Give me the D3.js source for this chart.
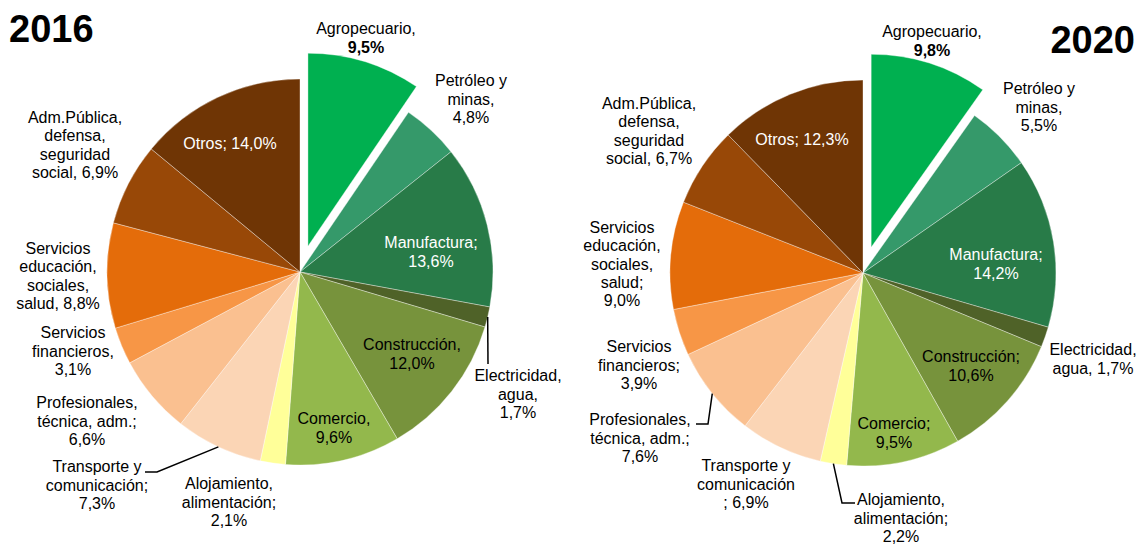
<!DOCTYPE html>
<html lang="es">
<head>
    <meta charset="UTF-8">
    <title>PIB por sectores 2016 - 2020</title>
    <script src="https://d3js.org/d3.v7.min.js"></script>
    <style>
        body {
            margin: 0;
            padding: 0;
            background: #fff;
        }
        svg {
            display: block;
            font-family: "Liberation Sans", Arial, sans-serif;
        }
        .slice {
            stroke: #fff;
            stroke-width: 0.6px;
            stroke-opacity: 0.6;
        }
        .lbl {
            font-size: 16px;
            text-anchor: middle;
        }
        .leader {
            fill: none;
            stroke: #000;
            stroke-width: 1.5px;
        }
        .year {
            font-size: 38px;
            font-weight: bold;
        }
    </style>
</head>
<body>
    <svg width="1142" height="544"></svg>

    <script>
        // sectores, en el orden del gráfico (sentido horario desde arriba)
        const sectors = ["Agropecuario", "Petróleo y minas", "Manufactura", "Electricidad, agua",
            "Construcción", "Comercio", "Alojamiento, alimentación", "Transporte y comunicación",
            "Profesionales, técnica, adm.", "Servicios financieros",
            "Servicios educación, sociales, salud", "Adm.Pública, defensa, seguridad social", "Otros"];

        const share2016 = [9.5, 4.8, 13.6, 1.7, 12.0, 9.6, 2.1, 7.3, 6.6, 3.1, 8.8, 6.9, 14.0];
        const share2020 = [9.8, 5.5, 14.2, 1.7, 10.6, 9.5, 2.2, 6.9, 7.6, 3.9, 9.0, 6.7, 12.3];

        const colors = ["#00b050", "#35996a", "#287b48", "#4f6228", "#77933c", "#93b84c", "#ffff99",
            "#fbd5b5", "#fac090", "#f79646", "#e46c0a", "#984807", "#6f3505"];

        // texto de las etiquetas, {v} = valor
        const text2016 = [
            ["Agropecuario,", "{v}"], ["Petróleo y", "minas,", "{v}"], ["Manufactura;", "{v}"],
            ["Electricidad,", "agua,", "{v}"], ["Construcción,", "{v}"], ["Comercio,", "{v}"],
            ["Alojamiento,", "alimentación;", "{v}"], ["Transporte y", "comunicación;", "{v}"],
            ["Profesionales,", "técnica, adm.;", "{v}"], ["Servicios", "financieros,", "{v}"],
            ["Servicios", "educación,", "sociales,", "salud, {v}"],
            ["Adm.Pública,", "defensa,", "seguridad", "social, {v}"], ["Otros; {v}"]
        ];
        const text2020 = [
            ["Agropecuario,", "{v}"], ["Petróleo y", "minas,", "{v}"], ["Manufactura;", "{v}"],
            ["Electricidad,", "agua, {v}"], ["Construcción;", "{v}"], ["Comercio;", "{v}"],
            ["Alojamiento,", "alimentación;", "{v}"], ["Transporte y", "comunicación", "; {v}"],
            ["Profesionales,", "técnica, adm.;", "{v}"], ["Servicios", "financieros;", "{v}"],
            ["Servicios", "educación,", "sociales,", "salud;", "{v}"],
            ["Adm.Pública,", "defensa,", "seguridad", "social, {v}"], ["Otros; {v}"]
        ];

        // colocación de etiquetas (centro del bloque respecto al centro de la torta)
        const place2016 = [[66, -234], [171, -173], [131, -20], [218, 122], [112, 82], [34, 156],
            [-71, 230], [-203, 213], [-213, 149], [-227, 79], [-242, 4], [-225, -127], [-70, -129]];
        const place2020 = [[69, -232], [176, -166], [133, -9], [230, 86], [108, 93], [31, 160],
            [38, 245], [-117, 211], [-223, 165], [-224, 92], [-241, -9], [-214, -142], [-61, -134]];

        const whiteText = [2, 12];   // Manufactura, Otros
        const lineH = 18.3;
        const explode = 27;
        const radius = 193;

        const svg = d3.select("svg");
        const fmt = v => d3.format(".1f")(v).replace(".", ",") + "%";

        function drawPie(cx, cy, values, texts, place, leaders) {
            const g = svg.append("g").attr("transform", `translate(${cx},${cy})`);
            const pie = d3.pie().sort(null).value(d => d)(values);
            const arc = d3.arc().innerRadius(0).outerRadius(radius);
            const edge = d3.arc().innerRadius(radius).outerRadius(radius);

            g.selectAll("path")
                .data(pie)
                .join("path")
                .attr("class", "slice")
                .attr("fill", (d, i) => colors[i])
                .attr("transform", (d, i) => {
                    if (i !== 0) return null;
                    const a = (d.startAngle + d.endAngle) / 2;
                    return `translate(${explode * Math.sin(a)},${-explode * Math.cos(a)})`;
                })
                .attr("d", arc);

            // líneas guía
            leaders.forEach(l => {
                const p = edge.centroid(pie[l.i]);
                const pts = [p].concat(l.pts);
                g.append("path")
                    .attr("class", "leader")
                    .attr("d", d3.line()(pts));
            });

            pie.forEach((d, i) => {
                const lines = texts[i];
                const [dx, dy] = place[i];
                const y0 = dy - (lines.length - 1) * lineH / 2;
                const t = g.append("text")
                    .attr("class", "lbl")
                    .attr("fill", whiteText.includes(i) ? "#fff" : "#000");
                lines.forEach((s, k) => {
                    t.append("tspan")
                        .attr("x", dx)
                        .attr("y", y0 + k * lineH)
                        .attr("dy", "0.35em")
                        .attr("font-weight", i === 0 && s === "{v}" ? "bold" : null)
                        .text(s.replace("{v}", fmt(values[i])));
                });
            });
        }

        drawPie(300, 272, share2016, text2016, place2016, [
            { i: 3, pts: [[188, 92]] },
            { i: 7, pts: [[-143, 200], [-155, 200]] }
        ]);
        drawPie(863, 273, share2020, text2020, place2020, [
            { i: 8, pts: [[-155, 151], [-167, 151]] },
            { i: 6, pts: [[-21, 230], [-8, 230]] }
        ]);

        svg.append("text").attr("class", "year").attr("x", 9).attr("y", 42).text("2016");
        svg.append("text").attr("class", "year").attr("x", 1135).attr("y", 53)
            .attr("text-anchor", "end").text("2020");
    </script>
</body>
</html>
